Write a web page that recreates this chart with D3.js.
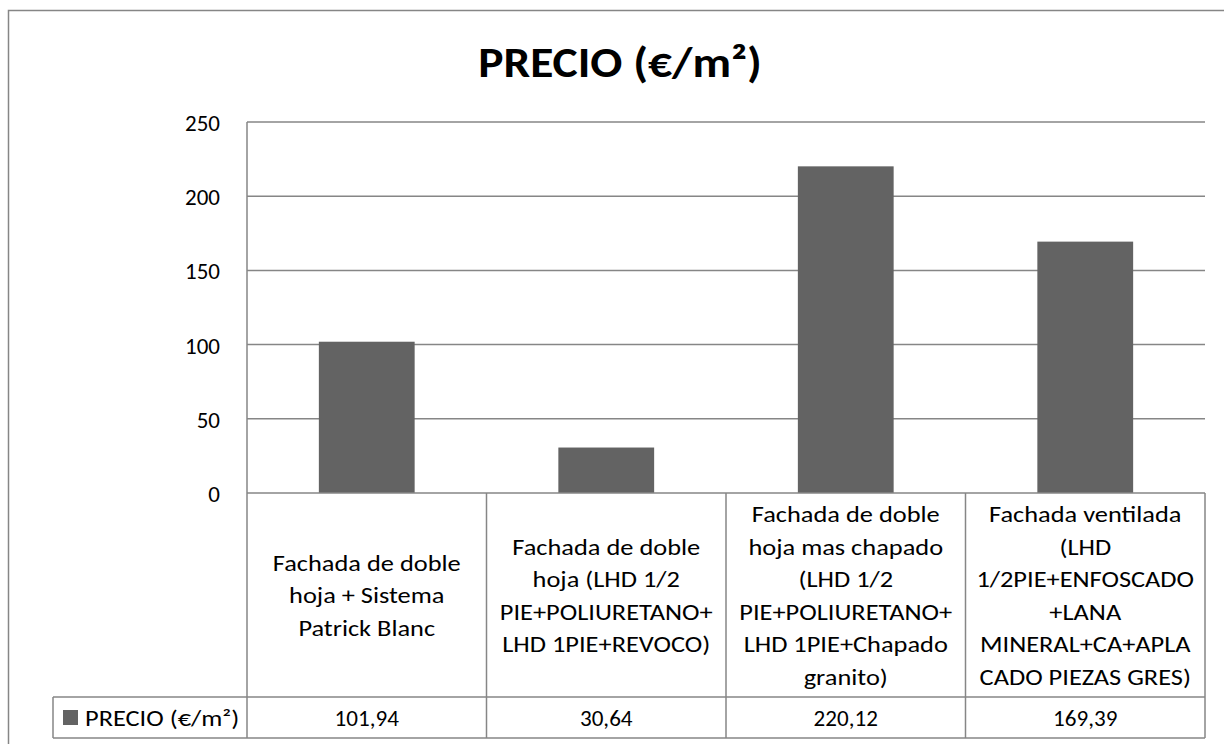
<!DOCTYPE html>
<html>
<head>
<meta charset="utf-8">
<script src="https://cdn.jsdelivr.net/npm/d3@7"></script>
<style>
  html, body { margin: 0; padding: 0; background: #fff; }
  svg { display: block; }
  text { font-family: Carlito, Calibri, Lato, "Open Sans", sans-serif; fill: #000; }
</style>
</head>
<body>
<svg id="chart" width="1224" height="744"></svg>
<script>
// Chart content
const title = "PRECIO (€/m²)";
const seriesName = "PRECIO (€/m²)";
const categories = [
  ["Fachada de doble", "hoja + Sistema", "Patrick Blanc"],
  ["Fachada de doble", "hoja (LHD 1/2", "PIE+POLIURETANO+", "LHD 1PIE+REVOCO)"],
  ["Fachada de doble", "hoja mas chapado", "(LHD 1/2", "PIE+POLIURETANO+", "LHD 1PIE+Chapado", "granito)"],
  ["Fachada ventilada", "(LHD", "1/2PIE+ENFOSCADO", "+LANA", "MINERAL+CA+APLA", "CADO PIEZAS GRES)"]
];
const values = [101.94, 30.64, 220.12, 169.39];
const valueLabels = ["101,94", "30,64", "220,12", "169,39"];
const yTicks = [0, 50, 100, 150, 200, 250];

const svg = d3.select("#chart");
const gridColor = "#868686";
const barColor = "#636363";
const fontSize = 22;
const textStretch = 1.2;   // wide glyph proportions for labels
const numStretch = 1.05;

// Layout
const plotLeft = 247, plotRight = 1205, plotTop = 122, plotBottom = 493;
const headerBottom = 697, tableBottom = 738, legendLeft = 53;

const x = d3.scaleBand()
  .domain(d3.range(categories.length))
  .range([plotLeft, plotRight])
  .paddingInner(0.6)
  .paddingOuter(0.3);

const y = d3.scaleLinear().domain([0, 250]).range([plotBottom, plotTop]);

// Places a text at (px, py) with horizontal stretching sx
function stretched(sel, px, py, sx) {
  return sel.attr("transform", `translate(${px},${py}) scale(${sx},1)`);
}

// Outer chart frame
svg.append("rect")
  .attr("x", 8.5).attr("y", 10.5)
  .attr("width", 1230).attr("height", 740)
  .attr("fill", "#fff").attr("stroke", gridColor).attr("stroke-width", 1.5);

// Title
stretched(svg.append("text"), 620, 77, 1.13)
  .attr("text-anchor", "middle")
  .attr("font-size", 42).attr("font-weight", "bold")
  .text(title);

// Horizontal gridlines
svg.append("g").selectAll("line")
  .data(yTicks.filter(d => d > 0))
  .join("line")
  .attr("x1", plotLeft).attr("x2", plotRight)
  .attr("y1", d => y(d)).attr("y2", d => y(d))
  .attr("stroke", gridColor).attr("stroke-width", 1.5);

// Y axis labels
const yAxis = d3.axisLeft(y).tickValues(yTicks).tickSize(0).tickPadding(27).tickFormat(d3.format("d"));
const yg = svg.append("g").attr("transform", `translate(${plotLeft},0)`).call(yAxis);
yg.select(".domain").remove();
yg.selectAll("text").attr("font-size", 23).attr("fill", "#000")
  .attr("dy", 8.5)
  .style("font-family", "Carlito, Calibri, Lato, sans-serif");

// Bars
svg.append("g").selectAll("rect")
  .data(values)
  .join("rect")
  .attr("x", (d, i) => x(i))
  .attr("width", x.bandwidth())
  .attr("y", d => y(d))
  .attr("height", d => y(0) - y(d))
  .attr("fill", barColor);

// Data table
const colEdges = d3.range(categories.length + 1).map(i => plotLeft + i * x.step());
const tbl = svg.append("g").attr("stroke", gridColor).attr("stroke-width", 1.5);
tbl.append("line").attr("x1", plotLeft).attr("x2", plotLeft).attr("y1", plotTop).attr("y2", tableBottom);
tbl.append("line").attr("x1", plotLeft).attr("x2", plotRight).attr("y1", y(0)).attr("y2", y(0));
tbl.append("line").attr("x1", legendLeft).attr("x2", plotRight).attr("y1", headerBottom).attr("y2", headerBottom);
tbl.append("line").attr("x1", legendLeft).attr("x2", plotRight).attr("y1", tableBottom).attr("y2", tableBottom);
tbl.append("line").attr("x1", legendLeft).attr("x2", legendLeft).attr("y1", headerBottom).attr("y2", tableBottom);
tbl.selectAll("line.col")
  .data(colEdges.slice(1))
  .join("line").attr("class", "col")
  .attr("x1", d => d).attr("x2", d => d)
  .attr("y1", y(0)).attr("y2", tableBottom);

// Category labels in table header (vertically centred block of lines)
const lineH = 32.5;
const midBaseline = 603.3;
svg.append("g").selectAll("text")
  .data(categories)
  .join("text")
  .attr("text-anchor", "middle")
  .attr("font-size", fontSize)
  .each(function(lines, i) {
    const cx = x(i) + x.bandwidth() / 2;
    const startY = midBaseline - (lines.length - 1) * lineH / 2;
    stretched(d3.select(this), cx, startY, textStretch);
    d3.select(this).selectAll("tspan")
      .data(lines)
      .join("tspan")
      .attr("x", 0)
      .attr("y", (l, j) => j * lineH)
      .text(l => l);
  });

// Value row
svg.append("g").selectAll("text")
  .data(valueLabels)
  .join("text")
  .each(function(d, i) {
    stretched(d3.select(this), x(i) + x.bandwidth() / 2, 726, numStretch);
  })
  .attr("text-anchor", "middle")
  .attr("font-size", fontSize)
  .text(d => d);

// Legend key in table
svg.append("rect")
  .attr("x", 63).attr("y", 710).attr("width", 15).attr("height", 15)
  .attr("fill", barColor);
stretched(svg.append("text"), 85, 726, textStretch)
  .attr("font-size", fontSize)
  .text(seriesName);
</script>
</body>
</html>
